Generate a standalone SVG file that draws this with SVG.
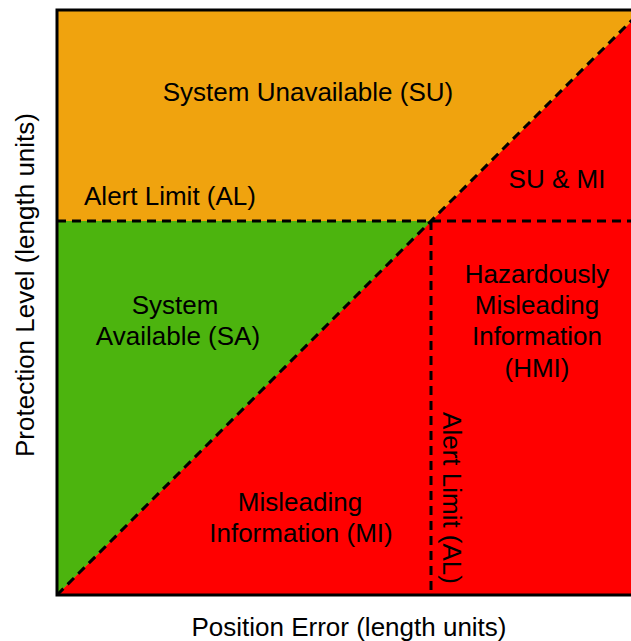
<svg xmlns="http://www.w3.org/2000/svg" width="631" height="641" viewBox="0 0 631 641">
<style>
text{font-family:"Liberation Sans",Arial,sans-serif;font-size:26px;fill:#000;text-anchor:middle}
.dash{stroke:#000;stroke-width:3;stroke-dasharray:9 6;fill:none}
</style>
<rect width="631" height="641" fill="#fff"/>
<g id="regions">
<rect id="su" x="57" y="10" width="590" height="585" fill="#F0A30E"/>
<polygon id="sa" points="57,221 432,221 57,595" fill="#4CB40E"/>
<polygon id="mi" points="57,595 643,10 647,10 647,595" fill="#FF0000"/>
</g>
<g id="connectors">
<line class="dash" x1="57" y1="221" x2="631" y2="221"/>
<line class="dash" x1="431" y1="221" x2="431" y2="595"/>
<line class="dash" x1="57" y1="595" x2="642" y2="10"/>
</g>
<rect x="57" y="10" width="590" height="585" fill="none" stroke="#000" stroke-width="3"/>
<g id="labels">
<text x="308" y="101">System Unavailable (SU)</text>
<text x="170" y="205">Alert Limit (AL)</text>
<text x="557" y="188">SU &amp; MI</text>
<text x="175" y="314">System</text>
<text x="178" y="345">Available (SA)</text>
<text x="537" y="283">Hazardously</text>
<text x="537" y="314">Misleading</text>
<text x="537" y="345">Information</text>
<text x="537" y="377">(HMI)</text>
<text x="300" y="511">Misleading</text>
<text x="301" y="542">Information (MI)</text>
<text transform="translate(443,498) rotate(90)">Alert Limit (AL)</text>
<text x="349" y="636">Position Error (length units)</text>
<text transform="translate(34,285) rotate(-90)">Protection Level (length units)</text>
</g>
</svg>
